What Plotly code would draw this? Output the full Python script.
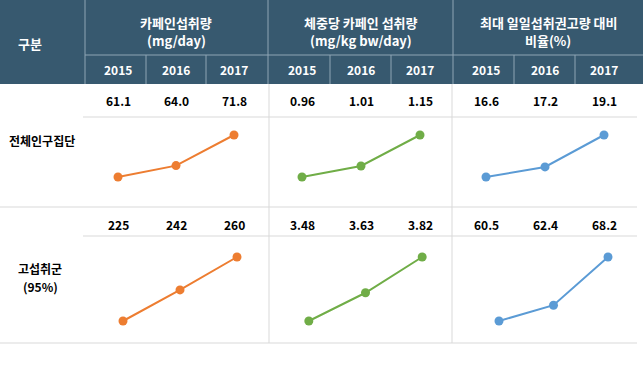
import plotly.graph_objects as go

# ---------------- data ----------------
years = ["2015", "2016", "2017"]
group_titles = [["카페인섭취량", "(mg/day)"],
                ["체중당 카페인 섭취량", "(mg/kg bw/day)"],
                ["최대 일일섭취권고량 대비", "비율(%)"]]
row_labels = [["전체인구집단"], ["고섭취군", "(95%)"]]
corner_label = "구분"

total_intake = [61.1, 64.0, 71.8]
total_perkg = [0.96, 1.01, 1.15]
total_ratio = [16.6, 17.2, 19.1]

high_intake = [225, 242, 260]
high_perkg = [3.48, 3.63, 3.82]
high_ratio = [60.5, 62.4, 68.2]

value_labels_total = [["61.1", "64.0", "71.8"], ["0.96", "1.01", "1.15"], ["16.6", "17.2", "19.1"]]
value_labels_high = [["225", "242", "260"], ["3.48", "3.63", "3.82"], ["60.5", "62.4", "68.2"]]

colors = ["#ED7D31", "#70AD47", "#5B9BD5"]

# ---------------- geometry ----------------
W, H = 643, 371
def px(x):
    return x / W
def py(y):
    return 1 - y / H

HEADER = "#37596F"
FONT = "Noto Sans CJK KR, Noto Sans, sans-serif"

rows = [[total_intake, total_perkg, total_ratio],
        [high_intake, high_perkg, high_ratio]]
xdom = [[(89, 263), (272.5, 449.5), (456.5, 633.5)],
        [(94.5, 265.5), (280.5, 450.5), (471.75, 635.25)]]
ydom = [(120, 200), (240, 340)]
# fraction of the plot height where min and max values sit
pos = [(23 / 80, 65 / 80), (19 / 100, 83 / 100)]

fig = go.Figure()
layout = {}
k = 0
for r in range(2):
    for g in range(3):
        k += 1
        vals = rows[r][g]
        xa = "x" if k == 1 else f"x{k}"
        ya = "y" if k == 1 else f"y{k}"
        fig.add_trace(go.Scatter(
            x=[0, 1, 2], y=vals, mode="lines+markers",
            line=dict(color=colors[g], width=2),
            marker=dict(color=colors[g], size=9),
            xaxis=xa, yaxis=ya, hoverinfo="skip", showlegend=False))
        vmin, vmax = min(vals), max(vals)
        lo, hi = pos[r]
        span = (vmax - vmin) / (hi - lo)
        r0 = vmin - lo * span
        kx = "xaxis" if k == 1 else f"xaxis{k}"
        ky = "yaxis" if k == 1 else f"yaxis{k}"
        layout[kx] = dict(domain=[px(xdom[r][g][0]), px(xdom[r][g][1])],
                          range=[-0.5, 2.5], visible=False, anchor=ya, fixedrange=True)
        layout[ky] = dict(domain=[py(ydom[r][1]), py(ydom[r][0])],
                          range=[r0, r0 + span], visible=False, anchor=xa, fixedrange=True)

shapes = []
def rect(x0, y0, x1, y1, color):
    shapes.append(dict(type="rect", xref="paper", yref="paper",
                       x0=px(x0), x1=px(x1), y0=py(y1), y1=py(y0),
                       fillcolor=color, line=dict(width=0), layer="below"))
def line(x0, y0, x1, y1, color, width=1):
    shapes.append(dict(type="line", xref="paper", yref="paper",
                       x0=px(x0), x1=px(x1), y0=py(y0), y1=py(y1),
                       line=dict(color=color, width=width)))

# header background
rect(0, 0, W, 84, HEADER)
hl = "#8FA6B5"
line(85, 0, 85, 84, hl)
line(268, 0, 268, 84, hl)
line(453, 0, 453, 84, hl)
line(85, 55, W, 55, hl)
for xv in [146, 206, 330, 391, 514, 575]:
    line(xv, 55, xv, 84, hl)

# body grid
gl = "#D9D9D9"
line(83, 117, 637, 117, gl)
line(0, 207, 637, 207, gl)
line(83, 236, 637, 236, gl)
line(0, 343, 637, 343, gl)
line(269, 84, 269, 343, gl)
line(452, 84, 452, 343, gl)

ann = []
def text(x, y, t, size=12, color="black", bold=True, xref="paper"):
    ann.append(dict(x=x, y=py(y), xref=xref, yref="paper", text=(f"<b>{t}</b>" if bold else t),
                    showarrow=False, font=dict(family=FONT, size=size, color=color),
                    xanchor="center", yanchor="middle", align="center"))

text(px(30), 43, corner_label, 13, "white")
group_centers = [176, 361, 548]
for g in range(3):
    text(px(group_centers[g]), 23, group_titles[g][0], 13, "white")
    text(px(group_centers[g]), 40, group_titles[g][1], 13, "white")
    xa = "x" if g == 0 else f"x{g + 1}"
    for i in range(3):
        text(i, 69, years[i], 12, "white", xref=xa)
        text(i, 100, value_labels_total[g][i], 12, "black", xref=xa)
        text(i, 224, value_labels_high[g][i], 12, "black", xref=xa)

text(px(42), 140, row_labels[0][0], 12, "black")
text(px(40), 268, row_labels[1][0], 12, "black")
text(px(40), 286, row_labels[1][1], 12, "black")

fig.update_layout(width=W, height=H, margin=dict(l=0, r=0, t=0, b=0),
                  paper_bgcolor="white", plot_bgcolor="white",
                  shapes=shapes, annotations=ann, showlegend=False, **layout)

fig.write_html("out.html", config={"displayModeBar": False},
               post_script="document.body.style.margin='0';document.body.style.padding='0';")
